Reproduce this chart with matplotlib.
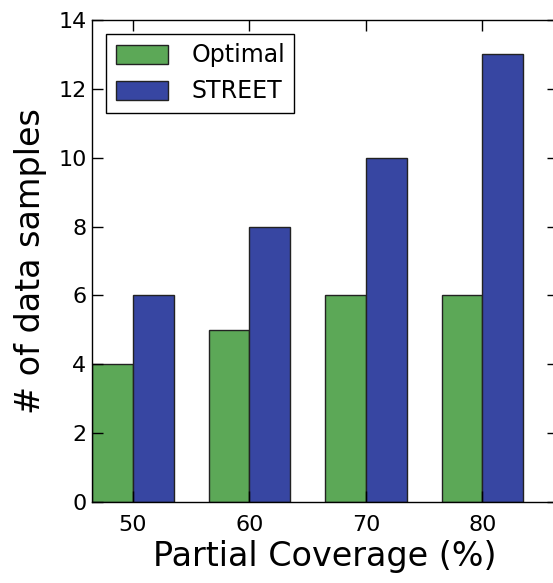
import numpy as np
import matplotlib
matplotlib.use("Agg")
import matplotlib.pyplot as plt

coverage = ["50", "60", "70", "80"]
optimal = [4, 5, 6, 6]
street = [6, 8, 10, 13]

width = 0.35
ind = np.arange(len(coverage))

fig = plt.figure(figsize=(5.53, 5.83), dpi=100)
ax = fig.add_axes([0.1664, 0.1389, 0.843, 0.827])

ax.bar(ind, optimal, width, align="edge", color="#5ca857", edgecolor="#222222",
       linewidth=1.0, label="Optimal")
ax.bar(ind + width, street, width, align="edge", color="#3746a2", edgecolor="#222222",
       linewidth=1.0, label="STREET")

ax.set_xlim(0, 4)
ax.set_ylim(0, 14)
ax.set_xticks(ind + width)
ax.set_xticklabels(coverage)
ax.set_yticks(range(0, 15, 2))
ax.tick_params(direction="in", length=8, width=1, top=True, right=True,
               labelsize=16)
ax.tick_params(axis="x", pad=9)
ax.tick_params(axis="y", pad=4)
for s in ax.spines.values():
    s.set_linewidth(1.0)

ax.set_xlabel("Partial Coverage (%)", fontsize=24, labelpad=4)
ax.set_ylabel("# of data samples", fontsize=24, labelpad=8)

leg = ax.legend(loc="upper left", fontsize=17, fancybox=False, framealpha=1,
                edgecolor="black", handlelength=2.2, handleheight=0.85,
                handletextpad=1.0, borderaxespad=0.6, labelspacing=0.5)
leg.get_frame().set_linewidth(1.0)

fig.savefig("out.png", dpi=100)
